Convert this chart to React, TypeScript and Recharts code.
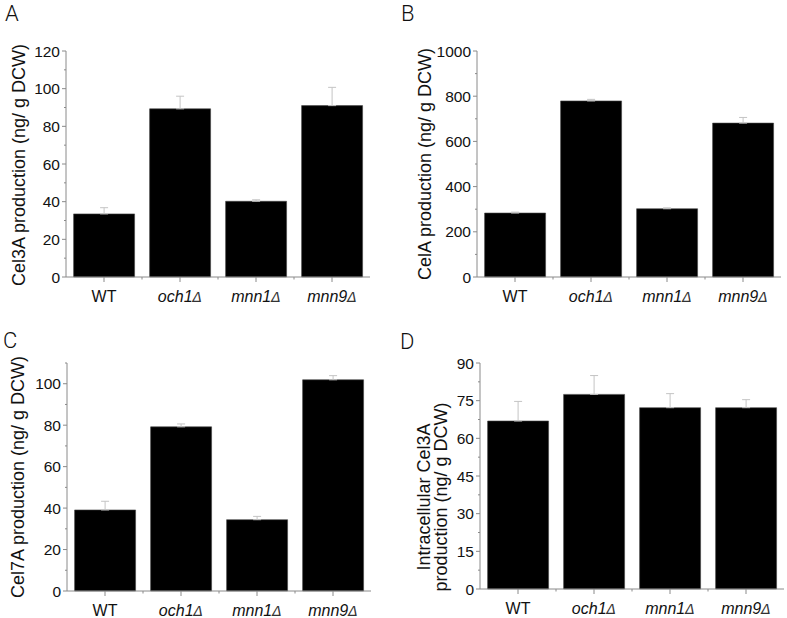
import { BarChart, Bar, XAxis, YAxis, ErrorBar } from 'recharts';

const categories = ['WT', 'och1Δ', 'mnn1Δ', 'mnn9Δ'];

const cel3aValues = [33.5, 89.3, 40.2, 91.0];
const cel3aErrors = [3.3, 6.7, 0.8, 9.7];
const cel3aTicks = [0, 10, 20, 30, 40, 50, 60, 70, 80, 90, 100, 110, 120];

const celaValues = [283, 779, 302, 681];
const celaErrors = [4, 7, 4, 25];
const celaTicks = [0, 100, 200, 300, 400, 500, 600, 700, 800, 900, 1000];

const cel7aValues = [39.1, 79.2, 34.4, 101.9];
const cel7aErrors = [4.2, 1.4, 1.6, 2.0];
const cel7aTicks = [0, 10, 20, 30, 40, 50, 60, 70, 80, 90, 100, 110];

const intraValues = [66.9, 77.5, 72.2, 72.2];
const intraErrors = [7.8, 7.5, 5.6, 3.2];
const intraTicks = [0, 7.5, 15, 22.5, 30, 37.5, 45, 52.5, 60, 67.5, 75, 82.5, 90];

const AXIS = '#8a8a8a';
const FONT = '"Liberation Sans", Arial, sans-serif';

const XTick = ({ x, y, payload, index, band }: any) => {
  const name: string = payload.value;
  const italic = name !== 'WT';
  const base = name.endsWith('Δ') ? name.slice(0, -1) : name;
  return (
    <g>
      <line x1={x} y1={y} x2={x} y2={y + 5} stroke={AXIS} />
      {index < categories.length - 1 && (
        <line x1={x + band / 2} y1={y} x2={x + band / 2} y2={y + 2.5} stroke={AXIS} />
      )}
      <text x={x} y={y + 25} textAnchor="middle" fontSize={16} fill="#111" fontFamily={FONT}>
        <tspan fontStyle={italic ? 'italic' : 'normal'}>{base}</tspan>
        {italic && (
          <tspan fontStyle="italic" fontFamily='"DejaVu Sans", sans-serif' fontSize={14} fill="#333">
            Δ
          </tspan>
        )}
      </text>
    </g>
  );
};

const YTick = ({ x, y, payload, majorEvery }: any) => {
  const v = payload.value;
  const major = Math.abs(v / majorEvery - Math.round(v / majorEvery)) < 1e-6;
  return (
    <g>
      <line x1={x} y1={y} x2={x - (major ? 4 : 2)} y2={y} stroke={AXIS} />
      {major && (
        <text x={x - 6} y={y} dy="0.36em" textAnchor="end" fontSize={15.5} fill="#111" fontFamily={FONT}>
          {v}
        </text>
      )}
    </g>
  );
};

function Panel({
  letter, letterX, letterY, left, top, width, height, plot,
  values, errors, ticks, majorEvery, titleLines, titleX, titleY,
}: any) {
  const data = categories.map((name, i) => ({ name, value: values[i], err: [0, errors[i]] }));
  const margin = { top: plot.y0 - top, right: left + width - plot.x1, bottom: 0, left: 0 };
  const band = (plot.x1 - plot.x0) / categories.length;
  const cx = titleX - left;
  const cy = titleY - top;
  const lh = 17;
  return (
    <>
      <div style={{ position: 'absolute', left, top }}>
        <BarChart width={width} height={height} data={data} margin={margin} barCategoryGap="10%">
          <XAxis
            dataKey="name"
            height={top + height - plot.y1}
            interval={0}
            tickSize={0}
            tickMargin={0}
            tickLine={false}
            axisLine={{ stroke: AXIS }}
            tick={(p: any) => <XTick {...p} band={band} />}
          />
          <YAxis
            width={plot.x0 - left}
            domain={[0, ticks[ticks.length - 1]]}
            ticks={ticks}
            interval={0}
            tickSize={0}
            tickMargin={0}
            tickLine={false}
            axisLine={{ stroke: AXIS }}
            tick={(p: any) => <YTick {...p} majorEvery={majorEvery} />}
            label={() => (
              <text
                x={cx}
                y={cy}
                transform={`rotate(-90 ${cx} ${cy})`}
                textAnchor="middle"
                fontSize={18}
                fill="#111"
                fontFamily={FONT}
              >
                {titleLines.map((t: string, i: number) => (
                  <tspan key={t} x={cx} y={cy + (i - (titleLines.length - 1) / 2) * lh} dy="0.36em">
                    {t}
                  </tspan>
                ))}
              </text>
            )}
          />
          <Bar dataKey="value" fill="#000" stroke="#444" strokeWidth={0.6} isAnimationActive={false}>
            <ErrorBar dataKey="err" direction="y" width={4} stroke="#c4c4c4" strokeWidth={1} />
          </Bar>
        </BarChart>
      </div>
      <div
        style={{
          position: 'absolute',
          left: letterX,
          top: letterY,
          fontSize: 22,
          lineHeight: '24px',
          fontFamily: 'Roboto, sans-serif',
          fontWeight: 300,
          color: '#111',
        }}
      >
        {letter}
      </div>
    </>
  );
}

export default function App() {
  return (
    <div style={{ position: 'absolute', left: 0, top: 0, width: 787, height: 618, background: '#fff' }}>
      <Panel
        letter="A" letterX={5} letterY={2}
        left={0} top={0} width={390} height={305}
        plot={{ x0: 66, x1: 370, y0: 51, y1: 277 }}
        values={cel3aValues} errors={cel3aErrors} ticks={cel3aTicks} majorEvery={20}
        titleLines={['Cel3A production (ng/ g DCW)']} titleX={18.5} titleY={165}
      />
      <Panel
        letter="B" letterX={401} letterY={2}
        left={390} top={0} width={397} height={305}
        plot={{ x0: 477, x1: 781, y0: 51, y1: 277 }}
        values={celaValues} errors={celaErrors} ticks={celaTicks} majorEvery={200}
        titleLines={['CelA production (ng/ g DCW)']} titleX={425} titleY={164}
      />
      <Panel
        letter="C" letterX={3} letterY={329}
        left={0} top={305} width={390} height={313}
        plot={{ x0: 67, x1: 371, y0: 363, y1: 591 }}
        values={cel7aValues} errors={cel7aErrors} ticks={cel7aTicks} majorEvery={20}
        titleLines={['Cel7A production (ng/ g DCW)']} titleX={18} titleY={477}
      />
      <Panel
        letter="D" letterX={400} letterY={330}
        left={390} top={305} width={397} height={313}
        plot={{ x0: 480, x1: 784, y0: 363, y1: 589 }}
        values={intraValues} errors={intraErrors} ticks={intraTicks} majorEvery={15}
        titleLines={['Intracellular Cel3A', 'production (ng/ g DCW)']} titleX={432} titleY={497}
      />
    </div>
  );
}
